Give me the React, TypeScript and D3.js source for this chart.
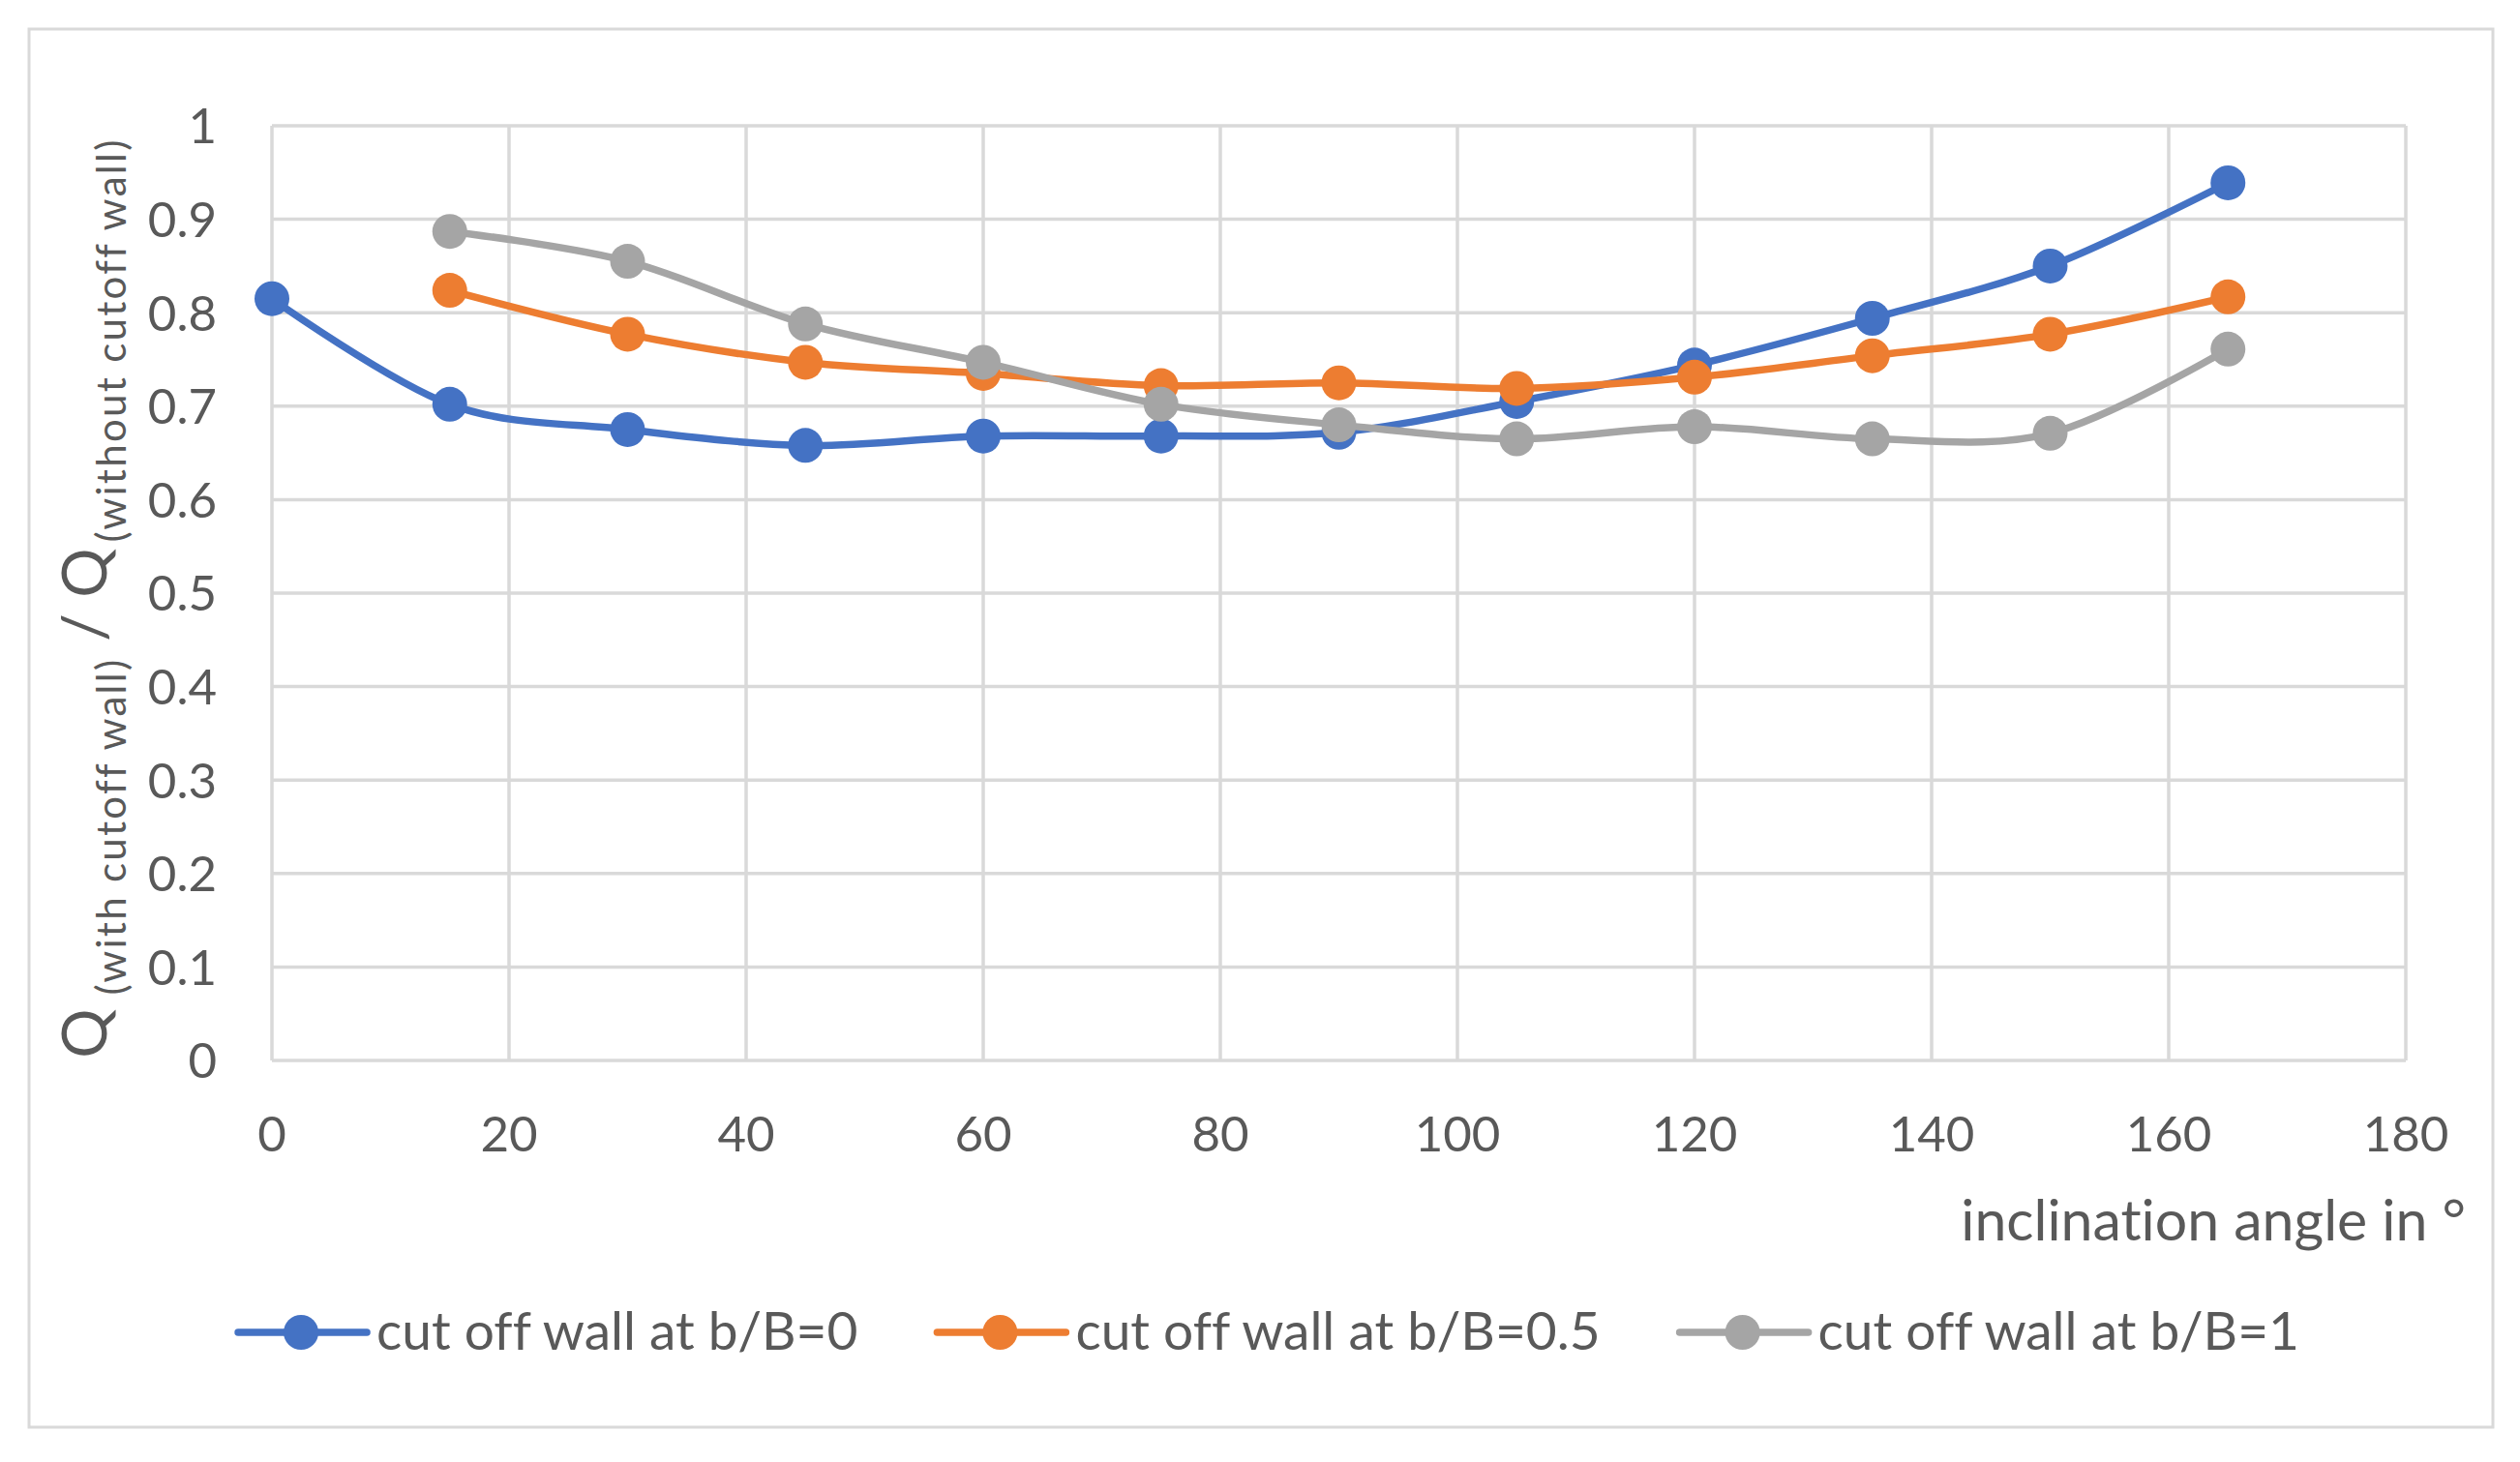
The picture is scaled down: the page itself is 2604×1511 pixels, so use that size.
import React, { useRef, useEffect } from 'react';
import * as d3 from 'd3';

// inclination angle in degrees
const ANGLES = [0, 15, 30, 45, 60, 75, 90, 105, 120, 135, 150, 165];

// Q(with cutoff wall) / Q(without cutoff wall)
const WALL_B0 = [0.815, 0.702, 0.675, 0.658, 0.668, 0.668, 0.672, 0.705, 0.744, 0.794, 0.85, 0.939];
const WALL_B05 = [null, 0.824, 0.777, 0.747, 0.735, 0.722, 0.725, 0.719, 0.731, 0.754, 0.777, 0.817];
const WALL_B1 = [null, 0.887, 0.855, 0.788, 0.747, 0.702, 0.68, 0.665, 0.678, 0.665, 0.671, 0.761];

const SERIES_NAMES = ['cut off wall at b/B=0', 'cut off wall at b/B=0.5', 'cut off wall at b/B=1'];
const SERIES_COLORS = ['#4472C4', '#ED7D31', '#A5A5A5'];

const X_TICKS = [0, 20, 40, 60, 80, 100, 120, 140, 160, 180];
const Y_TICKS = [0, 0.1, 0.2, 0.3, 0.4, 0.5, 0.6, 0.7, 0.8, 0.9, 1];

const W = 2604;
const H = 1511;
const FONT = 'Lato, "Open Sans", sans-serif';
const TEXT = '#595959';
const GRID = '#D9D9D9';

const App: React.FC = () => {
  const svgRef = useRef<SVGSVGElement>(null);

  useEffect(() => {
    const svg = d3.select(svgRef.current);
    svg.selectAll('*').remove();
    svg.style('font-variant-ligatures', 'none');

    const x = d3.scaleLinear().domain([0, 180]).range([281, 2486]);
    const y = d3.scaleLinear().domain([0, 1]).range([1096, 130]);

    svg.append('rect').attr('width', W).attr('height', H).attr('fill', '#fff');

    // chart border
    svg.append('rect')
      .attr('x', 30).attr('y', 30)
      .attr('width', 2546).attr('height', 1445)
      .attr('fill', 'none')
      .attr('stroke', GRID)
      .attr('stroke-width', 3);

    // grid
    const grid = svg.append('g').attr('stroke', GRID).attr('stroke-width', 3.5);
    grid.selectAll('line.v')
      .data(X_TICKS)
      .enter()
      .append('line')
      .attr('x1', d => x(d)).attr('x2', d => x(d))
      .attr('y1', y(0)).attr('y2', y(1));
    grid.selectAll('line.h')
      .data(Y_TICKS)
      .enter()
      .append('line')
      .attr('x1', x(0)).attr('x2', x(180))
      .attr('y1', d => y(d)).attr('y2', d => y(d));

    // tick labels
    svg.append('g')
      .selectAll('text')
      .data(Y_TICKS)
      .enter()
      .append('text')
      .attr('x', 224)
      .attr('y', d => y(d))
      .attr('dy', '0.36em')
      .attr('text-anchor', 'end')
      .attr('font-family', FONT)
      .attr('font-size', 51)
      .attr('fill', TEXT)
      .text(d => d3.format('~g')(d));

    svg.append('g')
      .selectAll('text')
      .data(X_TICKS)
      .enter()
      .append('text')
      .attr('x', d => x(d))
      .attr('y', 1190)
      .attr('text-anchor', 'middle')
      .attr('font-family', FONT)
      .attr('font-size', 51)
      .attr('fill', TEXT)
      .text(d => d);

    // axis titles
    svg.append('text')
      .attr('x', 2548)
      .attr('y', 1282)
      .attr('text-anchor', 'end')
      .attr('font-family', FONT)
      .attr('font-size', 59)
      .attr('fill', TEXT)
      .text('inclination angle in °');

    const yt = svg.append('text')
      .attr('transform', 'translate(110,618) rotate(-90)')
      .attr('text-anchor', 'middle')
      .attr('font-family', FONT)
      .attr('fill', TEXT);
    yt.append('tspan').attr('font-size', 64).text('Q');
    yt.append('tspan').attr('font-size', 42).attr('dx', 14).attr('dy', 20).attr('letter-spacing', 2.3).text('(with cutoff wall)');
    yt.append('tspan').attr('font-size', 64).attr('dy', -20).text(' / Q');
    yt.append('tspan').attr('font-size', 42).attr('dx', 6).attr('dy', 20).attr('letter-spacing', 2.3).text('(without cutoff wall)');

    // series
    const allSeries = [WALL_B0, WALL_B05, WALL_B1];
    const line = d3.line<[number, number | null]>()
      .defined(d => d[1] !== null)
      .x(d => x(d[0]))
      .y(d => y(d[1] as number))
      .curve(d3.curveCardinal.tension(0));

    allSeries.forEach((vals, i) => {
      const pts: [number, number | null][] = ANGLES.map((a, j) => [a, vals[j]]);
      const g = svg.append('g');
      g.append('path')
        .datum(pts)
        .attr('fill', 'none')
        .attr('stroke', SERIES_COLORS[i])
        .attr('stroke-width', 7.5)
        .attr('stroke-linejoin', 'round')
        .attr('d', line as any);
      g.selectAll('circle')
        .data(pts.filter(p => p[1] !== null))
        .enter()
        .append('circle')
        .attr('cx', d => x(d[0]))
        .attr('cy', d => y(d[1] as number))
        .attr('r', 18)
        .attr('fill', SERIES_COLORS[i]);
    });

    // legend
    const legend = svg.append('g');
    const items = SERIES_NAMES.map((name, i) => {
      const g = legend.append('g');
      g.append('line')
        .attr('x1', 0).attr('x2', 133)
        .attr('y1', 1377).attr('y2', 1377)
        .attr('stroke', SERIES_COLORS[i])
        .attr('stroke-width', 7.5)
        .attr('stroke-linecap', 'round');
      g.append('circle')
        .attr('cx', 65).attr('cy', 1377).attr('r', 18)
        .attr('fill', SERIES_COLORS[i]);
      const t = g.append('text')
        .attr('x', 143).attr('y', 1395)
        .attr('font-family', FONT)
        .attr('font-size', 55)
        .attr('fill', TEXT)
        .text(name);
      const tw = (t.node() as SVGTextElement).getComputedTextLength();
      return { g, w: 143 + tw };
    });
    const gap = 82;
    const total = d3.sum(items, d => d.w) + gap * (items.length - 1);
    let cx = 1311 - total / 2;
    items.forEach(it => {
      it.g.attr('transform', `translate(${cx},0)`);
      cx += it.w + gap;
    });
  }, []);

  return (
    <svg
      ref={svgRef}
      width={W}
      height={H}
      style={{ position: 'absolute', left: 0, top: 0 }}
    />
  );
};

export default App;
